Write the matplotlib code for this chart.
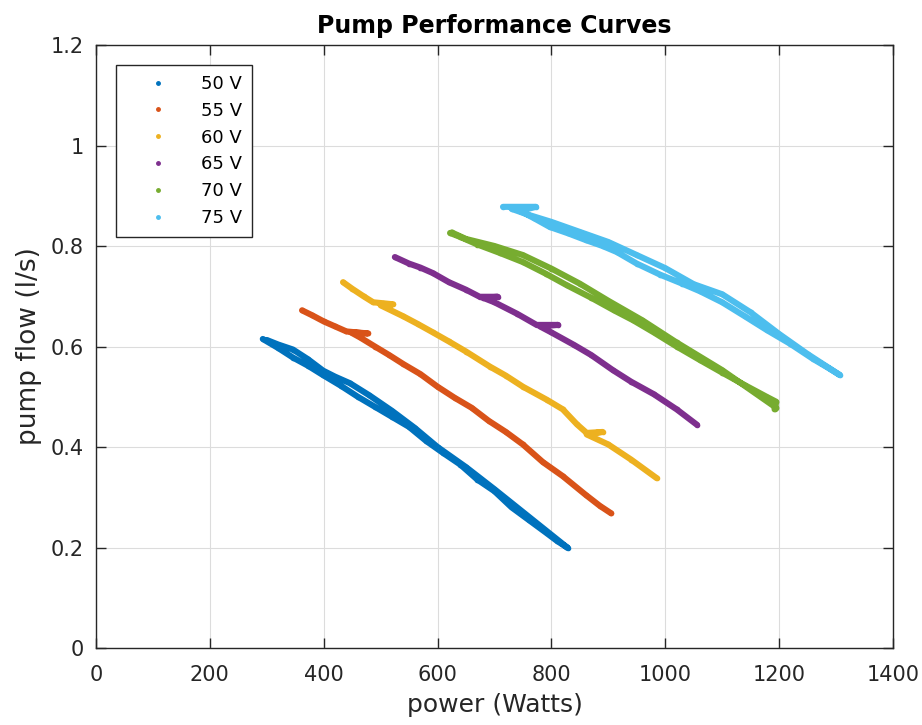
import matplotlib
matplotlib.use('Agg')
import matplotlib.pyplot as plt
from matplotlib.lines import Line2D

# Datos (potencia en W, caudal en l/s)
labels = ['50 V', '55 V', '60 V', '65 V', '70 V', '75 V']
colores = ['#0072BD', '#D95319', '#EDB120', '#7E2F8E', '#77AC30', '#4DBEEE']

pot_50 = [293, 320, 346, 372, 399, 430, 460, 490, 520, 550, 580, 610, 640, 670, 700, 730, 760, 790, 810, 829,
          700, 650, 600, 560, 520, 480, 446, 420, 399, 372, 346, 320, 300]
flu_50 = [0.615, 0.597, 0.578, 0.562, 0.543, 0.522, 0.500, 0.480, 0.460, 0.440, 0.412, 0.388, 0.365, 0.335, 0.312,
          0.280, 0.255, 0.230, 0.213, 0.199,
          0.316, 0.360, 0.400, 0.438, 0.472, 0.503, 0.527, 0.540, 0.552, 0.575, 0.594, 0.604, 0.613]

pot_55 = [362, 380, 400, 420, 440, 478, 448, 464, 490, 515, 540, 570, 600, 630, 660, 690, 720, 750, 785, 820,
          860, 885, 905]
flu_55 = [0.672, 0.662, 0.650, 0.640, 0.630, 0.626, 0.628, 0.618, 0.600, 0.583, 0.565, 0.545, 0.520, 0.498,
          0.478, 0.452, 0.430, 0.405, 0.370, 0.342, 0.305, 0.283, 0.268]

pot_60 = [434, 450, 470, 487, 505, 522, 500, 540, 565, 592, 620, 650, 692, 720, 750, 792, 820, 845, 862, 890,
          862, 900, 940, 985]
flu_60 = [0.728, 0.715, 0.700, 0.688, 0.686, 0.684, 0.682, 0.660, 0.645, 0.628, 0.610, 0.590, 0.560, 0.542,
          0.520, 0.494, 0.475, 0.445, 0.428, 0.430, 0.425, 0.405, 0.375, 0.338]

pot_65 = [525, 550, 570, 592, 620, 650, 674, 706, 680, 700, 740, 774, 812, 780, 800, 840, 870, 908, 940, 980,
          1020, 1056]
flu_65 = [0.778, 0.765, 0.757, 0.746, 0.728, 0.713, 0.699, 0.699, 0.697, 0.688, 0.665, 0.643, 0.643, 0.640,
          0.628, 0.603, 0.583, 0.553, 0.530, 0.505, 0.475, 0.444]

pot_70 = [622, 640, 670, 710, 750, 790, 827, 870, 910, 944, 980, 1020, 1061, 1100, 1140, 1178, 1195, 1192, 1195,
          1100, 1020, 960, 900, 850, 800, 750, 700, 650, 625]
flu_70 = [0.826, 0.818, 0.803, 0.786, 0.768, 0.745, 0.722, 0.697, 0.672, 0.652, 0.628, 0.600, 0.573, 0.548,
          0.523, 0.500, 0.490, 0.475, 0.478,
          0.553, 0.608, 0.652, 0.691, 0.725, 0.755, 0.782, 0.800, 0.814, 0.827]

pot_75 = [715, 773, 745, 770, 797, 830, 860, 890, 915, 950, 991, 1030, 1061, 1100, 1140, 1178, 1220, 1260, 1290,
          1307, 1250, 1200, 1150, 1100, 1050, 1000, 950, 900, 850, 800, 760, 730]
flu_75 = [0.878, 0.878, 0.870, 0.855, 0.838, 0.825, 0.812, 0.800, 0.788, 0.765, 0.743, 0.725, 0.710, 0.688,
          0.660, 0.633, 0.605, 0.575, 0.555, 0.543, 0.585, 0.625, 0.668, 0.704, 0.724, 0.756, 0.782, 0.808,
          0.828, 0.848, 0.862, 0.874]

potencias = [pot_50, pot_55, pot_60, pot_65, pot_70, pot_75]
caudales = [flu_50, flu_55, flu_60, flu_65, flu_70, flu_75]

plt.rcParams['font.family'] = ['DejaVu Sans']
gris = '#262626'

fig = plt.figure(figsize=(9.22, 7.25), dpi=100)
ax = fig.add_axes([0.1041, 0.1062, 0.8644, 0.8317])

for x, y, c in zip(potencias, caudales, colores):
    ax.plot(x, y, color=c, linewidth=4.4, marker='.', markersize=6,
            solid_joinstyle='round', solid_capstyle='round')

ax.set_xlim(0, 1400)
ax.set_ylim(0, 1.2)
ax.set_xticks([0, 200, 400, 600, 800, 1000, 1200, 1400])
ax.set_yticks([0, 0.2, 0.4, 0.6, 0.8, 1.0, 1.2])
ax.set_yticklabels(['0', '0.2', '0.4', '0.6', '0.8', '1', '1.2'])
ax.grid(True, color='#dcdcdc', linewidth=0.8)
ax.set_axisbelow(True)
ax.tick_params(direction='in', top=True, right=True, length=7, width=1, labelsize=15,
               colors=gris, pad=9)
ax.tick_params(axis='x', pad=12)
for s in ax.spines.values():
    s.set_color(gris)
    s.set_linewidth(1)

ax.set_title('Pump Performance Curves', fontsize=17, fontweight='bold', pad=9)
ax.set_xlabel('power (Watts)', fontsize=18, color=gris, labelpad=6)
ax.set_ylabel('pump flow (l/s)', fontsize=19, color=gris, labelpad=6)

handles = [Line2D([], [], color=c, marker='.', linestyle='none', markersize=5) for c in colores]
leg = ax.legend(handles, labels, loc='upper left', bbox_to_anchor=(0.025, 0.967), fontsize=13,
                frameon=True, fancybox=False, framealpha=1, edgecolor=gris,
                handlelength=3.6, handletextpad=0.55, labelspacing=0.49, borderpad=0.55, borderaxespad=0)
leg.get_frame().set_linewidth(1)

fig.savefig('out.png', dpi=100)
